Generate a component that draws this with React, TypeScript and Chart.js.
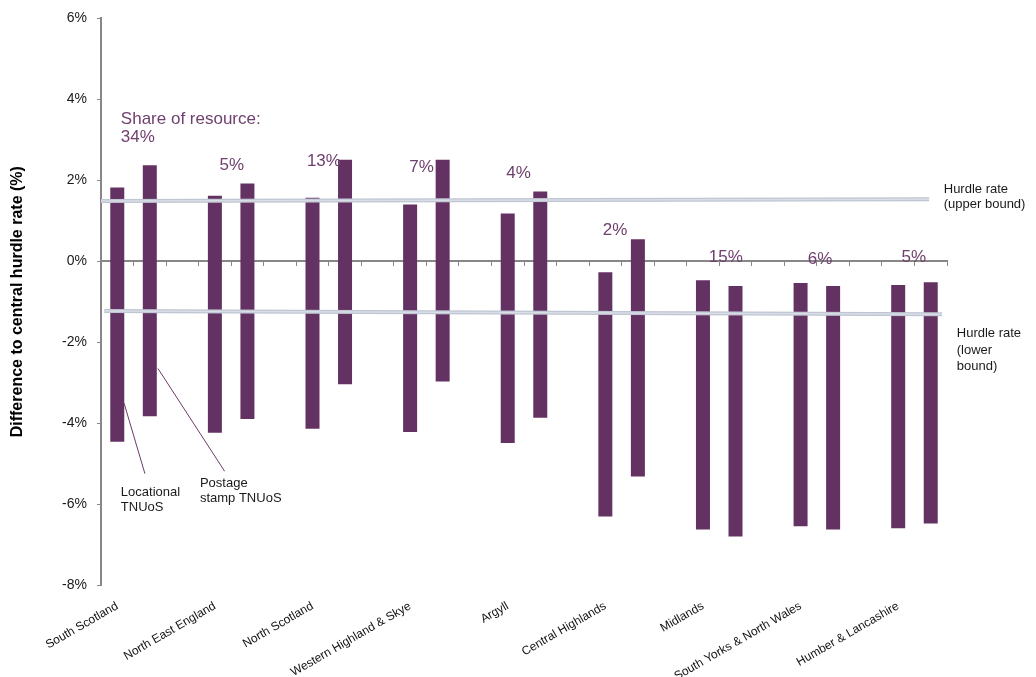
import React, { useEffect, useRef } from 'react';
import { Chart, registerables } from 'chart.js';

Chart.register(...registerables);

// ---------- data ----------
const regions = [
  'South Scotland',
  'North East England',
  'North Scotland',
  'Western Highland & Skye',
  'Argyll',
  'Central Highlands',
  'Midlands',
  'South Yorks & North Wales',
  'Humber & Lancashire',
];
const locationalHigh = [1.82, 1.62, 1.57, 1.4, 1.18, -0.27, -0.47, -0.54, -0.59];
const locationalLow = [-4.46, -4.24, -4.14, -4.22, -4.49, -6.31, -6.63, -6.55, -6.6];
const postageHigh = [2.37, 1.92, 2.51, 2.51, 1.72, 0.54, -0.61, -0.61, -0.52];
const postageLow = [-3.83, -3.9, -3.04, -2.97, -3.87, -5.32, -6.8, -6.63, -6.48];
const shareOfResource = [34, 5, 13, 7, 4, 2, 15, 6, 5];
const yTicks = [-8, -6, -4, -2, 0, 2, 4, 6];
const hurdleUpper = [1.49, 1.53];
const hurdleLower = [-1.23, -1.31];

// ---------- layout of annotations (in axis units) ----------
const hurdleUpperX = [0, 25.45];
const hurdleLowerX = [0.1, 25.85];
const shareAnchors = [
  { x: 0.61, y: 3.05, align: 'left' },
  { x: 4.02, y: 2.38, align: 'center' },
  { x: 6.85, y: 2.46, align: 'center' },
  { x: 9.85, y: 2.31, align: 'center' },
  { x: 12.83, y: 2.16, align: 'center' },
  { x: 15.8, y: 0.76, align: 'center' },
  { x: 19.2, y: 0.1, align: 'center' },
  { x: 22.1, y: 0.05, align: 'center' },
  { x: 24.98, y: 0.1, align: 'center' },
];
const shareHeading = { x: 0.61, y: 3.51, text: 'Share of resource:' };
const hurdleTexts = [
  { x: 25.9, y: 1.77, lines: ['Hurdle rate', '(upper bound)'], lh: 15 },
  { x: 26.3, y: -1.79, lines: ['Hurdle rate', '(lower', 'bound)'], lh: 16.5 },
];
const leaders = [
  { from: [0.71, -3.51], to: [1.35, -5.25], tx: 0.61, ty: -5.72, lines: ['Locational', 'TNUoS'] },
  { from: [1.75, -2.65], to: [3.8, -5.19], tx: 3.04, ty: -5.5, lines: ['Postage', 'stamp TNUoS'] },
];

const FONT = "'Liberation Sans', Arial, sans-serif";
const BAR = '#633262';
const PURPLE_TEXT = '#70406f';
const HURDLE = '#bfc5d3';
const HURDLE_INNER = '#d9dde6';
const AXIS = '#878787';

// slots: locational, postage, gap for every region (last gap dropped)
const slotLabels: string[] = [];
const slotData: ([number, number] | null)[] = [];
regions.forEach((r, i) => {
  slotLabels.push(r, '');
  slotData.push([locationalLow[i], locationalHigh[i]], [postageLow[i], postageHigh[i]]);
  if (i < regions.length - 1) {
    slotLabels.push('');
    slotData.push(null);
  }
});

const hurdleDataset = (xs: number[], ys: number[], color: string, width: number) =>
  ({
    type: 'line',
    data: xs.map((x, i) => ({ x, y: ys[i] })),
    xAxisID: 'xl',
    yAxisID: 'y',
    borderColor: color,
    borderWidth: width,
    pointRadius: 0,
    order: width > 2 ? 1 : 0,
  }) as any;

const annotationPlugin = {
  id: 'annotations',
  afterDatasetsDraw(chart: any) {
    const ctx = chart.ctx as CanvasRenderingContext2D;
    const xs = chart.scales.xl;
    const ys = chart.scales.y;
    const px = (v: number) => xs.getPixelForValue(v);
    const py = (v: number) => ys.getPixelForValue(v);
    ctx.save();
    // share of resource
    ctx.fillStyle = PURPLE_TEXT;
    ctx.font = `17px ${FONT}`;
    ctx.textBaseline = 'middle';
    ctx.textAlign = 'left';
    ctx.fillText(shareHeading.text, px(shareHeading.x), py(shareHeading.y));
    shareOfResource.forEach((s, i) => {
      const a = shareAnchors[i];
      ctx.textAlign = a.align as CanvasTextAlign;
      ctx.fillText(`${s}%`, px(a.x), py(a.y));
    });
    // hurdle texts
    ctx.fillStyle = '#1a1a1a';
    ctx.font = `13px ${FONT}`;
    ctx.textAlign = 'left';
    hurdleTexts.forEach((h) => {
      h.lines.forEach((l, k) => ctx.fillText(l, px(h.x), py(h.y) + k * h.lh));
    });
    // leader lines
    leaders.forEach((ld) => {
      ctx.strokeStyle = '#6b3a6b';
      ctx.lineWidth = 1;
      ctx.beginPath();
      ctx.moveTo(px(ld.from[0]), py(ld.from[1]));
      ctx.lineTo(px(ld.to[0]), py(ld.to[1]));
      ctx.stroke();
      ctx.fillStyle = '#1a1a1a';
      ld.lines.forEach((l, k) => ctx.fillText(l, px(ld.tx), py(ld.ty) + k * 14.5));
    });
    ctx.restore();
  },
};

export default function App() {
  const ref = useRef<HTMLCanvasElement>(null);
  useEffect(() => {
    if (!ref.current) return;
    const chart = new Chart(ref.current, {
      type: 'bar',
      data: {
        labels: slotLabels,
        datasets: [
          hurdleDataset(hurdleUpperX, hurdleUpper, HURDLE_INNER, 1.5),
          hurdleDataset(hurdleLowerX, hurdleLower, HURDLE_INNER, 1.5),
          hurdleDataset(hurdleUpperX, hurdleUpper, HURDLE, 4),
          hurdleDataset(hurdleLowerX, hurdleLower, HURDLE, 4),
          {
            type: 'bar',
            data: slotData as any,
            xAxisID: 'x',
            yAxisID: 'y',
            backgroundColor: BAR,
            borderWidth: 0,
            grouped: false,
            barPercentage: 0.43,
            categoryPercentage: 1,
            order: 2,
          } as any,
        ],
      },
      options: {
        animation: false,
        responsive: true,
        maintainAspectRatio: false,
        layout: { padding: { top: 15, right: 89, left: 0, bottom: 0 } },
        plugins: { legend: { display: false }, tooltip: { enabled: false } },
        scales: {
          x: {
            type: 'category',
            offset: true,
            grid: { display: false, drawTicks: false },
            border: { display: false },
            ticks: {
              autoSkip: false,
              maxRotation: 30,
              minRotation: 30,
              padding: 14,
              color: '#111',
              font: { family: FONT, size: 12 },
            },
            afterFit: (s: any) => {
              s.height = 92;
            },
          },
          x0: {
            type: 'category',
            labels: slotLabels,
            position: { y: 0 } as any,
            offset: true,
            grid: {
              offset: true,
              drawOnChartArea: false,
              drawTicks: true,
              tickLength: 4,
              color: AXIS,
              lineWidth: 1,
            },
            border: { display: true, color: AXIS, width: 2 },
            ticks: { display: false },
          },
          xl: {
            type: 'linear',
            min: 0,
            max: 26,
            offset: false,
            grid: { offset: false },
            display: false,
          },
          y: {
            min: -8,
            max: 6,
            afterBuildTicks: (s: any) => {
              s.ticks = yTicks.map((v) => ({ value: v }));
            },
            ticks: {
              callback: (v: any) => `${v}%`,
              padding: 10,
              color: '#1a1a1a',
              font: { family: FONT, size: 14 },
            },
            grid: { drawOnChartArea: false, tickLength: 4, color: AXIS },
            border: { color: AXIS, width: 2 },
            title: {
              display: true,
              text: 'Difference to central hurdle rate (%)',
              color: '#000',
              font: { family: FONT, size: 16, weight: 'bold' },
              padding: { top: 8, bottom: 0 },
            },
            afterFit: (s: any) => {
              s.width = 101;
            },
          },
        },
      },
      plugins: [annotationPlugin],
    });
    return () => chart.destroy();
  }, []);
  return (
    <div style={{ position: 'fixed', left: 0, top: 0, width: 1036, height: 677, background: '#fff' }}>
      <canvas ref={ref} />
    </div>
  );
}
